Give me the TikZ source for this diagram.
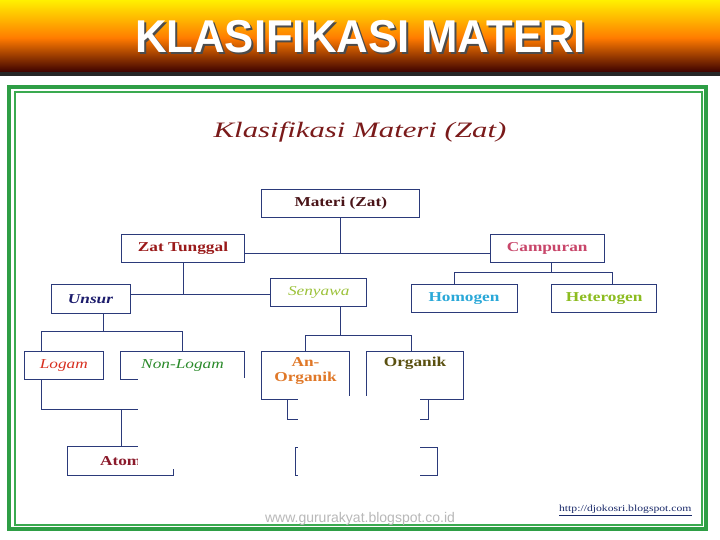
\documentclass[tikz,border=0pt]{standalone}
\usepackage{fontspec}
\setmainfont{Liberation Serif}
\newfontfamily\bxf[FakeStretch=1.27]{Liberation Serif}
\newfontfamily\subf[FakeStretch=1.4]{Liberation Serif}
\newfontfamily\ttlf[FakeStretch=0.95]{Liberation Sans}
\newfontfamily\wmf{Liberation Sans}
\definecolor{linec}{HTML}{2B3A7A}
\definecolor{frameg}{HTML}{2E9E45}
\definecolor{frameg2}{HTML}{3AAA50}
\definecolor{cmateri}{HTML}{4A1418}
\definecolor{czt}{HTML}{9A1A1A}
\definecolor{ccamp}{HTML}{C8466A}
\definecolor{cunsur}{HTML}{1C1C6C}
\definecolor{csen}{HTML}{9CC23A}
\definecolor{chomo}{HTML}{2AA8D8}
\definecolor{chet}{HTML}{8CBC20}
\definecolor{clogam}{HTML}{D83020}
\definecolor{cnonl}{HTML}{2A8A2A}
\definecolor{canorg}{HTML}{E07828}
\definecolor{corg}{HTML}{5A5010}
\definecolor{catom}{HTML}{8B1A2B}
\definecolor{csub}{HTML}{7A1A1A}
\definecolor{clink}{HTML}{1A2A6A}
\definecolor{ban1}{HTML}{FFF000}
\definecolor{ban2}{HTML}{FF7A00}
\definecolor{ban3}{HTML}{EE0800}
\definecolor{ban4}{HTML}{3A0000}
\begin{document}
\begin{tikzpicture}[x=1pt,y=-1pt,
  box/.style={draw=linec, line width=1pt, inner sep=0pt,
    font=\bxf\fontsize{13.6}{15}\selectfont},
  conn/.style={draw=linec, line width=1pt},
  boxtext/.style={inner sep=0pt, font=\bxf\fontsize{13.6}{15}\selectfont\bfseries, align=center}
]
\useasboundingbox (0,0) rectangle (720,540);
\fill[white] (0,0) rectangle (720,540);
% banner
\shade[top color=ban1, bottom color=ban2] (0,0) rectangle (720,38.5);
\shade[top color=ban2, middle color=ban3, bottom color=ban4] (0,38) rectangle (720,72.5);
\fill[black!85] (0,72) rectangle (720,76);
\node[anchor=base, inner sep=0pt, text=white, font=\ttlf\fontsize{46}{50}\selectfont\bfseries] (title) at (360.5,53)
  {\rlap{\hspace{2pt}\raisebox{-2pt}{\textcolor{black!70}{KLASIFIKASI MATERI}}}KLASIFIKASI MATERI};
% frame
\draw[frameg, line width=4pt] (9,87) rectangle (706,529);
\draw[frameg2, line width=2pt] (14.5,92.5) rectangle (701.5,525);
% subtitle
\node[anchor=base, inner sep=0pt, text=csub, font=\subf\fontsize{22}{26}\selectfont\itshape] (sub) at (360,137.5) {Klasifikasi Materi (Zat)};
% boxes
\node[box, minimum width=158.3pt, minimum height=28.4pt, text=cmateri, font=\bxf\fontsize{13.6}{15}\selectfont\bfseries] (materi) at (340.8,203.5) {Materi (Zat)};
\node[box, minimum width=122.6pt, minimum height=28.3pt, text=czt, font=\bxf\fontsize{13.6}{15}\selectfont\bfseries] (zt) at (183,248.2) {Zat Tunggal};
\node[box, minimum width=114.3pt, minimum height=28.4pt, text=ccamp, font=\bxf\fontsize{13.6}{15}\selectfont\bfseries] (camp) at (547.2,248.2) {Campuran};
\node[box, minimum width=106pt, minimum height=27.7pt, text=chomo, font=\bxf\fontsize{13.6}{15}\selectfont\bfseries] (homo) at (464,298.8) {Homogen};
\node[box, minimum width=105pt, minimum height=28.4pt, text=chet, font=\bxf\fontsize{13.6}{15}\selectfont\bfseries] (het) at (604.2,298.5) {Heterogen};
\node[box, minimum width=79pt, minimum height=29pt, text=cunsur, font=\bxf\fontsize{13.6}{15}\selectfont\bfseries\itshape] (unsur) at (90.5,298.8) {Unsur};
\node[box, minimum width=96pt, minimum height=27.7pt, text=csen, font=\bxf\fontsize{13.6}{15}\selectfont\itshape] (sen) at (318.7,292.2) {Senyawa};
\node[box, minimum width=79pt, minimum height=28.3pt, text=clogam, font=\bxf\fontsize{13.6}{15}\selectfont\itshape] (logam) at (63.8,365.8) {Logam};
\node[box, minimum width=123.6pt, minimum height=27.6pt, text=cnonl, font=\bxf\fontsize{13.6}{15}\selectfont\itshape] (nonl) at (182.5,365.5) {Non-Logam};
\node[box, minimum width=87.6pt, minimum height=47.6pt] (anorg) at (305.5,375.5) {};
\node[boxtext, text=canorg, font=\bxf\fontsize{13.6}{14.7}\selectfont\bfseries] (anorgt) at (305.5,371.2) {An-\\Organik};
\node[box, minimum width=96.6pt, minimum height=47.6pt] (org) at (415,375.5) {};
\node[boxtext, text=corg] (orgt) at (415,363.6) {Organik};
\node[box, minimum width=106pt, minimum height=29pt, text=catom, font=\bxf\fontsize{13.6}{15}\selectfont\bfseries] (atom) at (120.7,461.2) {Atom};
\node[box, minimum width=141.3pt, minimum height=28.7pt] (bot) at (366.6,461.6) {};
% connectors
\coordinate (j1) at (340.8,253.5);
\draw[conn] (materi.south) -- (j1);
\draw[conn] (zt.east |- j1) -- (camp.west |- j1);
\coordinate (j2) at (183,294.3);
\draw[conn] (zt.south) -- (j2);
\draw[conn] (unsur.east |- j2) -- (sen.west |- j2);
\coordinate (j3) at (551.7,272);
\coordinate (h1) at (454.3,272);
\coordinate (h2) at (612.7,272);
\draw[conn] (j3 |- camp.south) -- (j3);
\draw[conn] (h1 |- homo.north) -- (h1) -- (h2) -- (h2 |- het.north);
\coordinate (j4) at (103.3,331.7);
\coordinate (l1) at (41.7,331.7);
\coordinate (l2) at (182.7,331.7);
\draw[conn] (j4 |- unsur.south) -- (j4);
\draw[conn] (l1 |- logam.north) -- (l1) -- (l2) -- (l2 |- nonl.north);
\coordinate (j5) at (340.7,335);
\coordinate (s1) at (305.7,335);
\coordinate (s2) at (411.7,335);
\draw[conn] (j5 |- sen.south) -- (j5);
\draw[conn] (s1 |- anorg.north) -- (s1) -- (s2) -- (s2 |- org.north);
\coordinate (k1) at (41.7,409);
\coordinate (k2) at (200,409);
\coordinate (k3) at (121,409);
\draw[conn] (k1 |- logam.south) -- (k1) -- (k2);
\draw[conn] (k3) -- (k3 |- atom.north);
\coordinate (m1) at (287.7,419);
\coordinate (m2) at (428.3,419);
\draw[conn] (m1 |- anorg.south) -- (m1) -- (m2) -- (m2 |- org.south);
% white patches of the scan
\fill[white] (138,378.3) rectangle (257,469);
\fill[white] (298,396) rectangle (420,486);
% footer texts
\node[anchor=base, inner sep=0pt, text=clink, font=\bxf\fontsize{9.2}{11}\selectfont] (link) at (625.3,511.5) {\underline{http://djokosri.blogspot.com}};
\node[anchor=base, inner sep=0pt, text=black!28, font=\wmf\fontsize{14}{16}\selectfont] (wm) at (360,522.7) {www.gururakyat.blogspot.co.id};
\end{tikzpicture}
\end{document}
